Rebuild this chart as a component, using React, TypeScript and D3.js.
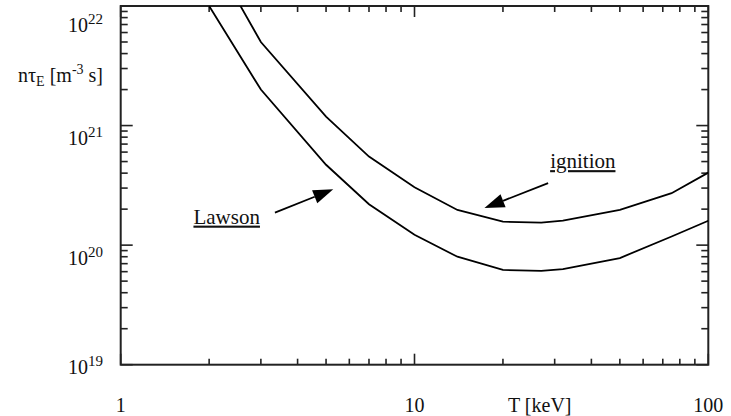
import React from 'react';
import * as d3 from 'd3';

const temps = [2, 3, 5, 7, 10, 14, 20, 27, 32, 50, 75, 100];
const ignition = [2.9e22, 5.0e21, 1.19e21, 5.5e20, 3.05e20, 1.97e20, 1.57e20, 1.54e20, 1.6e20, 1.97e20, 2.72e20, 4.04e20];
const lawson = [1.0e22, 2.0e21, 4.7e20, 2.2e20, 1.22e20, 8.0e19, 6.2e19, 6.1e19, 6.3e19, 7.8e19, 1.18e20, 1.6e20];

const xTickLabels = [1, 10, 100];
const yDecades = [19, 20, 21, 22];
const yLabelShift = [9, 20, 19, 26]; // label baselines sit a bit below the ticks

// annotation arrows: [tail, tip] in data units
const lawsonArrow = [[3.35, 1.87e20], [5.29, 2.93e20]];
const ignitionArrow = [[28.5, 3.3e20], [17.3, 2.04e20]];

const W = 731;
const H = 416;
const left = 120.7, right = 708.3, top = 6, bottom = 364.7;

const x = d3.scaleLog().domain([1, 100]).range([left, right]);
const y = d3.scaleLog().domain([1e19, 1e22]).range([bottom, top]);

const line = d3.line<number>()
  .x((_, i) => x(temps[i]))
  .y((d) => y(d));

// minor + major ticks for a log axis
const ticksFor = (lo: number, hi: number) => {
  const out: { v: number; major: boolean }[] = [];
  for (let e = lo; e < hi; e++) {
    for (let m = 1; m < 10; m++) out.push({ v: m * Math.pow(10, e), major: m === 1 });
  }
  out.push({ v: Math.pow(10, hi), major: true });
  return out;
};

const xTicks = ticksFor(0, 2);
const yTicks = ticksFor(19, 22);

const Arrow = ({ pts }: { pts: number[][] }) => {
  const [x0, y0] = [x(pts[0][0]), y(pts[0][1])];
  const [x1, y1] = [x(pts[1][0]), y(pts[1][1])];
  const ang = Math.atan2(y1 - y0, x1 - x0);
  const len = 20, hw = 7;
  const bx = x1 - len * Math.cos(ang), by = y1 - len * Math.sin(ang);
  const px = -Math.sin(ang) * hw, py = Math.cos(ang) * hw;
  return (
    <g>
      <line x1={x0} y1={y0} x2={bx} y2={by} stroke="#000" strokeWidth={1.8} />
      <polygon points={`${x1},${y1} ${bx + px},${by + py} ${bx - px},${by - py}`} fill="#000" />
    </g>
  );
};

export default function App() {
  return (
    <svg width={W} height={H} fontFamily="Liberation Serif" style={{ position: 'absolute', left: 0, top: 0 }}>
      <style>{`text, tspan { font-family: "Liberation Serif" !important; } .ul { text-decoration: underline; text-decoration-skip-ink: none; }`}</style>
      <defs>
        <clipPath id="plot">
          <rect x={left} y={top} width={right - left} height={bottom - top} />
        </clipPath>
      </defs>

      {/* ticks */}
      <g stroke="#222" strokeWidth={1.6}>
        {xTicks.map((t, i) => (
          <g key={'x' + i}>
            <line x1={x(t.v)} x2={x(t.v)} y1={bottom} y2={bottom - (t.major ? 11 : 6)} />
            <line x1={x(t.v)} x2={x(t.v)} y1={top} y2={top + (t.major ? 11 : 6)} />
          </g>
        ))}
        {yTicks.map((t, i) => (
          <g key={'y' + i}>
            <line x1={left} x2={left + (t.major ? 12 : 7)} y1={y(t.v)} y2={y(t.v)} />
            <line x1={right} x2={right - (t.major ? 12 : 7)} y1={y(t.v)} y2={y(t.v)} />
          </g>
        ))}
      </g>

      <rect x={left} y={top} width={right - left} height={bottom - top} fill="none" stroke="#222" strokeWidth={2} />

      <g clipPath="url(#plot)" fill="none" stroke="#000" strokeWidth={1.8}>
        <path d={line(lawson) || ''} />
        <path d={line(ignition) || ''} />
      </g>

      <Arrow pts={lawsonArrow} />
      <Arrow pts={ignitionArrow} />

      <text className="ul" fontSize={21} fill="#111" x={x(lawsonArrow[0][0]) - 15} y={y(lawsonArrow[0][1]) + 11} textAnchor="end">Lawson</text>
      <text className="ul" fontSize={21} fill="#111" x={x(ignitionArrow[0][0]) + 2} y={y(ignitionArrow[0][1]) - 15}>ignition</text>

      {/* x tick labels */}
      {xTickLabels.map((v) => (
        <text key={v} fontSize={20} fill="#111" textAnchor="middle" x={x(v)} y={412}>{v}</text>
      ))}
      <text fontSize={20} fill="#111" x={508} y={412}>T [keV]</text>

      {/* y tick labels */}
      {yDecades.map((e, i) => (
        <text key={e} fontSize={20} fill="#111" textAnchor="end" x={103} y={y(Math.pow(10, e)) + yLabelShift[i]}>
          10<tspan fontSize={15} dy={-8}>{e}</tspan>
        </text>
      ))}
      <text fontSize={20} fill="#111" textAnchor="end" x={103} y={82}>
        nτ<tspan fontSize={14} dy={4}>E</tspan>
        <tspan dy={-4}> [m</tspan>
        <tspan fontSize={14} dy={-8}>-3</tspan>
        <tspan dy={8}> s]</tspan>
      </text>
    </svg>
  );
}
